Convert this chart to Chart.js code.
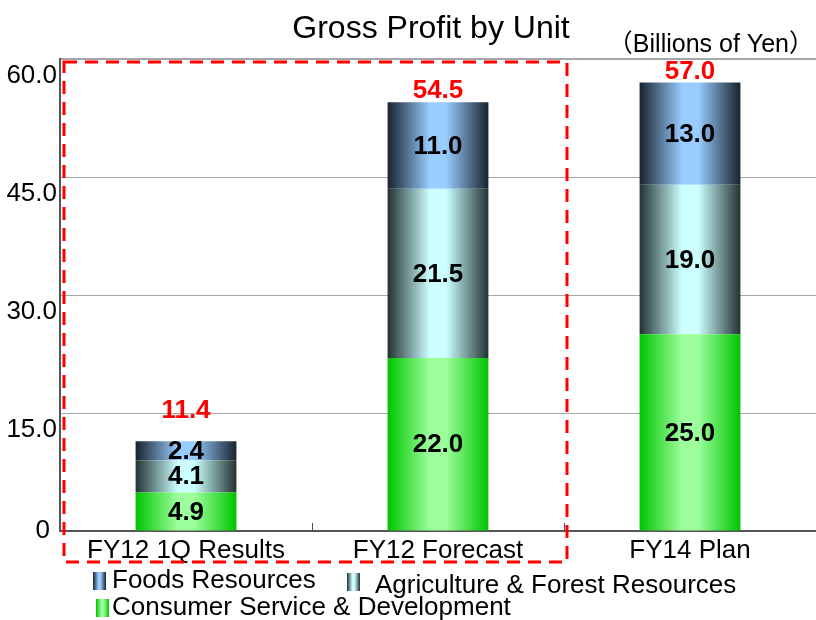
<!DOCTYPE html>
<html>
<head>
<meta charset="utf-8">
<script src="https://cdn.jsdelivr.net/npm/chart.js@4/dist/chart.umd.min.js"></script>
<style>
  html, body { margin: 0; padding: 0; background: #fff; }
  #wrap { width: 816px; height: 620px; }
</style>
</head>
<body>
<div id="wrap"><canvas id="grossProfit" width="816" height="620"></canvas></div>
<script>
// donnees du graphique
const categories = ['FY12 1Q Results', 'FY12 Forecast', 'FY14 Plan'];
const consumerService = [4.9, 22.0, 25.0];
const agriForest = [4.1, 21.5, 19.0];
const foodsResources = [2.4, 11.0, 13.0];
const totals = [11.4, 54.5, 57.0];
const yTickValues = [0, 15, 30, 45, 60];
const yTickLabels = ['0', '15.0', '30.0', '45.0', '60.0'];

const FONT = '"Liberation Sans", Arial, "Noto Sans CJK JP", sans-serif';
const BAR_PCT = 0.4;

// couleurs des degrades (bord, centre)
const colFoods = ['#17222e', '#99ccff'];
const colAgri = ['#223232', '#ccffff'];
const colGreen = ['#00c400', '#9cff9c'];

function makeGrad(c, x0, x1, cols) {
  const g = c.createLinearGradient(x0, 0, x1, 0);
  g.addColorStop(0, cols[0]);
  g.addColorStop(0.42, cols[1]);
  g.addColorStop(0.58, cols[1]);
  g.addColorStop(1, cols[0]);
  return g;
}

function barFill(cols) {
  return function (ctx) {
    const chart = ctx.chart;
    const xs = chart.scales.x;
    if (!xs || !chart.chartArea) return cols[1];
    const cx = xs.getPixelForValue(ctx.dataIndex);
    const half = (xs.width / categories.length) * BAR_PCT / 2;
    return makeGrad(chart.ctx, cx - half, cx + half, cols);
  };
}

// etiquettes, titre, legende, cadre rouge
const decoPlugin = {
  id: 'deco',
  afterDatasetsDraw(chart) {
    const c = chart.ctx;
    c.save();
    c.textAlign = 'center';
    c.textBaseline = 'middle';
    c.font = 'bold 26px ' + FONT;
    c.fillStyle = '#000';
    chart.data.datasets.forEach((ds, i) => {
      const meta = chart.getDatasetMeta(i);
      meta.data.forEach((bar, j) => {
        c.fillText(ds.data[j].toFixed(1), bar.x, (bar.y + bar.base) / 2 + 1);
      });
    });
    // totaux en rouge au-dessus des barres
    const topMeta = chart.getDatasetMeta(chart.data.datasets.length - 1);
    c.fillStyle = '#ff0000';
    topMeta.data.forEach((bar, j) => {
      const segMid = (bar.y + bar.base) / 2;
      c.fillText(totals[j].toFixed(1), bar.x, Math.min(bar.y - 11, segMid - 40));
    });
    c.restore();
  },
  afterDraw(chart) {
    const c = chart.ctx;
    const area = chart.chartArea;
    const xs = chart.scales.x;
    const ys = chart.scales.y;
    c.save();

    // graduations de l'axe Y (sous la ligne, facon Excel)
    c.fillStyle = '#000';
    c.font = '26px ' + FONT;
    c.textAlign = 'right';
    yTickValues.forEach((v, i) => {
      const py = ys.getPixelForValue(v);
      if (v === 0) {
        c.textBaseline = 'middle';
        c.fillText(yTickLabels[i], area.left - 10, py);
      } else {
        c.textBaseline = 'top';
        c.fillText(yTickLabels[i], area.left - 3, py + 4);
      }
    });

    // petits traits de separation vers l'interieur
    c.strokeStyle = '#555';
    c.lineWidth = 1;
    for (let i = 1; i < categories.length; i++) {
      const bx = Math.round((xs.getPixelForValue(i - 1) + xs.getPixelForValue(i)) / 2) + 0.5;
      c.beginPath();
      c.moveTo(bx, area.bottom);
      c.lineTo(bx, area.bottom - 8);
      c.stroke();
    }

    // titre
    c.textBaseline = 'middle';
    c.textAlign = 'center';
    c.font = '32px ' + FONT;
    c.fillText('Gross Profit by Unit', 431, 29);
    c.font = '25px ' + FONT;
    c.textAlign = 'right';
    c.fillText('（Billions of Yen）', 814, 45);

    // cadre pointille rouge autour des deux premieres barres
    const right = (xs.getPixelForValue(1) + xs.getPixelForValue(2)) / 2 + 3;
    c.strokeStyle = '#ff0000';
    c.lineWidth = 3;
    c.setLineDash([13, 8]);
    c.strokeRect(area.left + 4, area.top + 3, right - area.left - 4, area.bottom + 31 - area.top - 3);
    c.setLineDash([]);

    // legende
    const items = [
      { label: 'Foods Resources', cols: colFoods, mx: 93, my: 572, tx: 112, ty: 581 },
      { label: 'Agriculture & Forest Resources', cols: colAgri, mx: 347, my: 573, tx: 375, ty: 586 },
      { label: 'Consumer Service & Development', cols: colGreen, mx: 96, my: 599, tx: 112, ty: 608 }
    ];
    c.font = '26px ' + FONT;
    c.textAlign = 'left';
    items.forEach(it => {
      c.fillStyle = makeGrad(c, it.mx, it.mx + 13, it.cols);
      c.fillRect(it.mx, it.my, 13, 18);
      c.fillStyle = '#000';
      c.fillText(it.label, it.tx, it.ty);
    });
    c.restore();
  }
};

const myChart = new Chart(document.getElementById('grossProfit'), {
  type: 'bar',
  data: {
    labels: categories,
    datasets: [
      { label: 'Consumer Service & Development', data: consumerService, backgroundColor: barFill(colGreen) },
      { label: 'Agriculture & Forest Resources', data: agriForest, backgroundColor: barFill(colAgri) },
      { label: 'Foods Resources', data: foodsResources, backgroundColor: barFill(colFoods) }
    ]
  },
  options: {
    responsive: false,
    animation: false,
    layout: { padding: { top: 59, bottom: 49, left: 0, right: 0 } },
    datasets: { bar: { barPercentage: BAR_PCT, categoryPercentage: 1, borderWidth: 0 } },
    plugins: {
      legend: { display: false },
      title: { display: false },
      tooltip: { enabled: false }
    },
    scales: {
      x: {
        stacked: true,
        offset: true,
        afterFit: s => { s.height = 40; },
        grid: { display: false },
        border: { display: true, color: '#555', width: 2 },
        ticks: { color: '#000', font: { family: FONT, size: 26 }, padding: -4, maxRotation: 0 }
      },
      y: {
        stacked: true,
        min: 0,
        max: 60,
        afterFit: s => { s.width = 60; },
        afterBuildTicks: s => { s.ticks = yTickValues.map(v => ({ value: v })); },
        grid: { color: ctx => ctx.tick && ctx.tick.value === 0 ? 'rgba(0,0,0,0)' : '#a6a6a6', lineWidth: ctx => ctx.tick && ctx.tick.value === 60 ? 2 : 1, drawTicks: false },
        border: { display: true, color: '#555', width: 2 },
        ticks: { display: false }
      }
    }
  },
  plugins: [decoPlugin]
});
</script>
</body>
</html>
